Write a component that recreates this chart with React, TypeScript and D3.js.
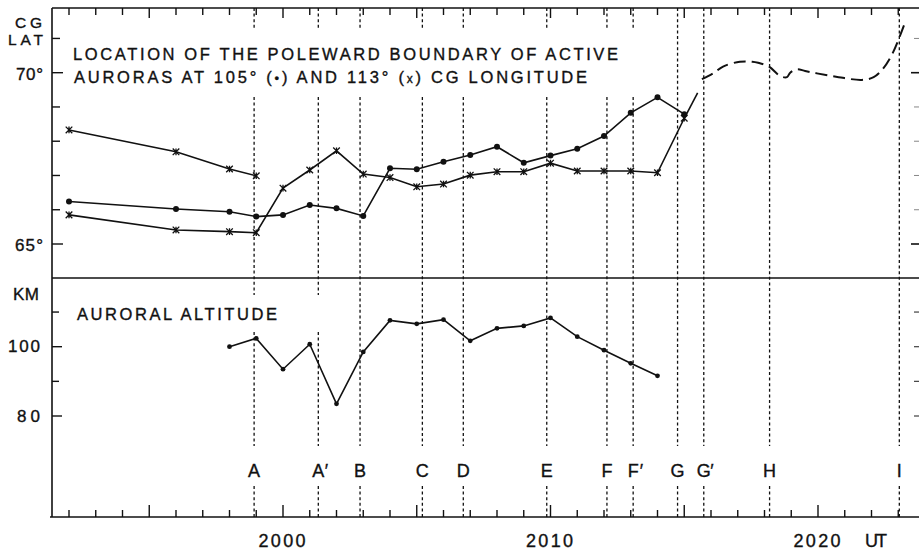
import React from "react";
import * as d3 from "d3";

const W = 919;
const H = 552;

// times in minutes after 20:00 UT
const dotTimes = [-8, -4, -2, -1, 0, 1, 2, 3, 4, 5, 6, 7, 8, 9, 10, 11, 12, 13, 14, 15];
const dotLat = [66.24, 66.02, 65.94, 65.8, 65.85, 66.14, 66.04, 65.82, 67.21, 67.18, 67.4, 67.6, 67.84, 67.37, 67.58, 67.78, 68.15, 68.83, 69.28, 68.79];

const crossUpperTimes = [-8, -4, -2, -1];
const crossUpperLat = [68.33, 67.69, 67.19, 66.99];

const crossTimes = [-8, -4, -2, -1, 0, 1, 2, 3, 4, 5, 6, 7, 8, 9, 10, 11, 12, 13, 14, 15];
const crossLat = [65.85, 65.41, 65.36, 65.33, 66.63, 67.16, 67.72, 67.04, 66.94, 66.67, 66.75, 67.01, 67.11, 67.11, 67.36, 67.13, 67.13, 67.13, 67.08, 68.67];

const extTimes = [15, 15.5];
const extLat = [68.67, 69.41];

const trendTimes = [15.66, 16.08, 16.45, 17.08, 17.54, 17.76, 18.17, 18.59, 18.84, 18.96, 19.21, 19.52, 19.96, 20.77, 21.64, 22.08, 22.39, 22.76, 23.26];
const trendLat = [69.81, 69.98, 70.18, 70.32, 70.32, 70.29, 70.18, 69.9, 69.87, 70.0, 70.1, 70.05, 69.98, 69.87, 69.79, 69.87, 70.08, 70.52, 71.48];

const altTimes = [-2, -1, 0, 1, 2, 3, 4, 5, 6, 7, 8, 9, 10, 11, 12, 13, 14];
const altKm = [100, 102.4, 93.5, 100.7, 83.5, 98.5, 107.6, 106.6, 107.8, 101.7, 105.3, 106.0, 108.3, 102.9, 99.0, 95.2, 91.6];

const eventLabels = ["A", "A′", "B", "C", "D", "E", "F", "F′", "G", "G′", "H", "I"];
const eventTimes = [-1.08, 1.32, 2.88, 5.21, 6.74, 9.86, 12.11, 13.09, 14.75, 15.73, 18.19, 23.04];

const latTicks = [65, 66, 67, 68, 69, 70, 71];
const latMajor = [65, 70];
const kmTicks = [80, 90, 100, 110];
const kmMajor = [80, 100];
const timeLabelValues = [0, 10, 20];
const timeLabelTexts = ["2000", "2010", "2020"];

const FONT = "'Liberation Sans', Arial, Helvetica, sans-serif";
const INK = "#111";

const L = 52;
const TOP = 8;
const SEP = 278;
const BOT = 517;

const x = d3.scaleLinear().domain([0, 20]).range([283, 818]);
const yLat = d3.scaleLinear().domain([65, 70]).range([244, 72.7]);
const yKm = d3.scaleLinear().domain([80, 100]).range([416, 346.7]);

const zip = (a: number[], b: number[]) => a.map((v, i) => [v, b[i]] as [number, number]);

const latLine = d3
  .line<[number, number]>()
  .x((d) => x(d[0]))
  .y((d) => yLat(d[1]));
const latCurve = d3
  .line<[number, number]>()
  .x((d) => x(d[0]))
  .y((d) => yLat(d[1]))
  .curve(d3.curveCatmullRom.alpha(0.5));
const kmLine = d3
  .line<[number, number]>()
  .x((d) => x(d[0]))
  .y((d) => yKm(d[1]));

function Txt(props: { x: number; y: number; w?: number; anchor?: string; size?: number; children: React.ReactNode }) {
  const { x: tx, y: ty, w, anchor, size, children } = props;
  return (
    <text
      x={tx}
      y={ty}
      textLength={w}
      lengthAdjust={w ? "spacing" : undefined}
      textAnchor={anchor || "start"}
      fontFamily={FONT}
      fontSize={size || 17}
      fill={INK}
      stroke={INK}
      strokeWidth={0.35}
    >
      {children}
    </text>
  );
}

function Cross({ cx, cy }: { cx: number; cy: number }) {
  const s = 3.3;
  return (
    <path
      d={`M${cx - s},${cy - s}L${cx + s},${cy + s}M${cx - s},${cy + s}L${cx + s},${cy - s}M${cx},${cy - s}L${cx},${cy + s}`}
      stroke={INK}
      strokeWidth={1.3}
      fill="none"
    />
  );
}

export default function App() {
  const minutes = d3.range(-8, 24);

  const eventSegments = eventTimes.map((t, i) => {
    const gaps: [number, number][] = [];
    if (i < 8) gaps.push([30, 97]);
    if (i < 2) gaps.push([295, 332]);
    gaps.push([446, 486]);
    const segs: [number, number][] = [];
    let start = TOP;
    gaps.forEach(([g0, g1]) => {
      segs.push([start, g0]);
      start = g1;
    });
    segs.push([start, BOT]);
    return { x: x(t), segs };
  });

  return (
    <svg width={W} height={H} style={{ position: "absolute", left: 0, top: 0, background: "#fff" }}>
      <rect x={0} y={0} width={W} height={H} fill="#fff" />

      {/* frame */}
      <line x1={L} x2={W} y1={TOP} y2={TOP} stroke={INK} strokeWidth={1.6} />
      <line x1={L} x2={W} y1={SEP} y2={SEP} stroke={INK} strokeWidth={1.6} />
      <line x1={L - 2} x2={W} y1={BOT} y2={BOT} stroke={INK} strokeWidth={1.6} />
      <line x1={L} x2={L} y1={TOP} y2={BOT} stroke={INK} strokeWidth={1.6} />

      {/* time ticks */}
      {minutes.map((m) => {
        const major = m % 5 === 0;
        const xx = x(m);
        return (
          <g key={m}>
            <line x1={xx} x2={xx} y1={TOP} y2={TOP + (major ? 10 : 7)} stroke={INK} strokeWidth={1.4} />
            <line x1={xx} x2={xx} y1={BOT} y2={BOT - (major ? 12 : 7)} stroke={INK} strokeWidth={1.4} />
          </g>
        );
      })}

      {/* y ticks */}
      {latTicks.map((v) => {
        const major = latMajor.includes(v);
        const yy = yLat(v);
        return (
          <g key={"lat" + v}>
            <line x1={L} x2={L + (major ? 11 : 8)} y1={yy} y2={yy} stroke={INK} strokeWidth={1.4} />
            <line x1={W} x2={W - (major ? 8 : 5)} y1={yy} y2={yy} stroke={INK} strokeWidth={major ? 1.6 : 1} opacity={major ? 1 : 0.5} />
          </g>
        );
      })}
      {kmTicks.map((v) => {
        const major = kmMajor.includes(v);
        const yy = yKm(v);
        return (
          <g key={"km" + v}>
            <line x1={L} x2={L + (major ? 10 : 7)} y1={yy} y2={yy} stroke={INK} strokeWidth={1.4} />
            <line x1={W} x2={W - 5} y1={yy} y2={yy} stroke={INK} strokeWidth={1.2} opacity={0.8} />
          </g>
        );
      })}

      {/* event dashed lines */}
      {eventSegments.map((e, i) => (
        <g key={"ev" + i}>
          {e.segs.map(([a, b], j) => (
            <line key={j} x1={e.x} x2={e.x} y1={a} y2={b} stroke={INK} strokeWidth={1.3} strokeDasharray="3,2.6" />
          ))}
        </g>
      ))}
      {eventLabels.map((lab, i) => {
        const xx = x(eventTimes[i]);
        const base = lab.charAt(0);
        const prime = lab.length > 1;
        return (
          <g key={"lab" + i}>
            <Txt x={xx} y={477} anchor="middle" size={18}>
              {base}
            </Txt>
            {prime && (
              <Txt x={xx + 6.5} y={477} size={18}>
                ′
              </Txt>
            )}
          </g>
        );
      })}

      {/* top panel series */}
      <path d={latLine(zip(crossUpperTimes, crossUpperLat)) || ""} fill="none" stroke={INK} strokeWidth={1.6} />
      <path d={latLine(zip(crossTimes, crossLat)) || ""} fill="none" stroke={INK} strokeWidth={1.6} />
      <path d={latLine(zip(dotTimes, dotLat)) || ""} fill="none" stroke={INK} strokeWidth={1.6} />
      <path d={latLine(zip(extTimes, extLat)) || ""} fill="none" stroke={INK} strokeWidth={1.6} />
      <path d={latCurve(zip(trendTimes, trendLat)) || ""} fill="none" stroke={INK} strokeWidth={2} strokeDasharray="12,6" />

      {dotTimes.map((t, i) => (
        <circle key={"d" + i} cx={x(t)} cy={yLat(dotLat[i])} r={3} fill={INK} />
      ))}
      {crossUpperTimes.map((t, i) => (
        <Cross key={"cu" + i} cx={x(t)} cy={yLat(crossUpperLat[i])} />
      ))}
      {crossTimes.map((t, i) => (
        <Cross key={"c" + i} cx={x(t)} cy={yLat(crossLat[i])} />
      ))}

      {/* bottom panel */}
      <path d={kmLine(zip(altTimes, altKm)) || ""} fill="none" stroke={INK} strokeWidth={1.6} />
      {altTimes.map((t, i) => (
        <circle key={"a" + i} cx={x(t)} cy={yKm(altKm[i])} r={2.4} fill={INK} />
      ))}

      {/* axis text */}
      <Txt x={15} y={27.5} w={27} size={15.5}>CG</Txt>
      <Txt x={8} y={45} w={35} size={15.5}>LAT</Txt>
      <Txt x={16} y={80} w={27}>70°</Txt>
      <Txt x={15} y={251} w={28}>65°</Txt>
      <Txt x={13} y={300} w={26}>KM</Txt>
      <Txt x={8} y={352} w={32}>100</Txt>
      <Txt x={17} y={422} w={23}>80</Txt>

      {timeLabelValues.map((v, i) => (
        <Txt key={"tl" + i} x={x(v) - 1} y={547} w={47} anchor="middle" size={18}>
          {timeLabelTexts[i]}
        </Txt>
      ))}
      <Txt x={865} y={547} w={22} size={18}>UT</Txt>

      {/* titles */}
      <Txt x={73} y={60} w={545} size={16.5}>LOCATION OF THE POLEWARD BOUNDARY OF ACTIVE</Txt>
      <text x={74} y={83} textLength={513} lengthAdjust="spacing" fontFamily={FONT} fontSize={16.5} fill={INK} stroke={INK} strokeWidth={0.35}>
        AURORAS AT 105° (<tspan fontSize={13}>•</tspan>) AND 113° (<tspan fontSize={12}>x</tspan>) CG LONGITUDE
      </text>
      <Txt x={77} y={320} w={200} size={16.5}>AURORAL ALTITUDE</Txt>
    </svg>
  );
}
